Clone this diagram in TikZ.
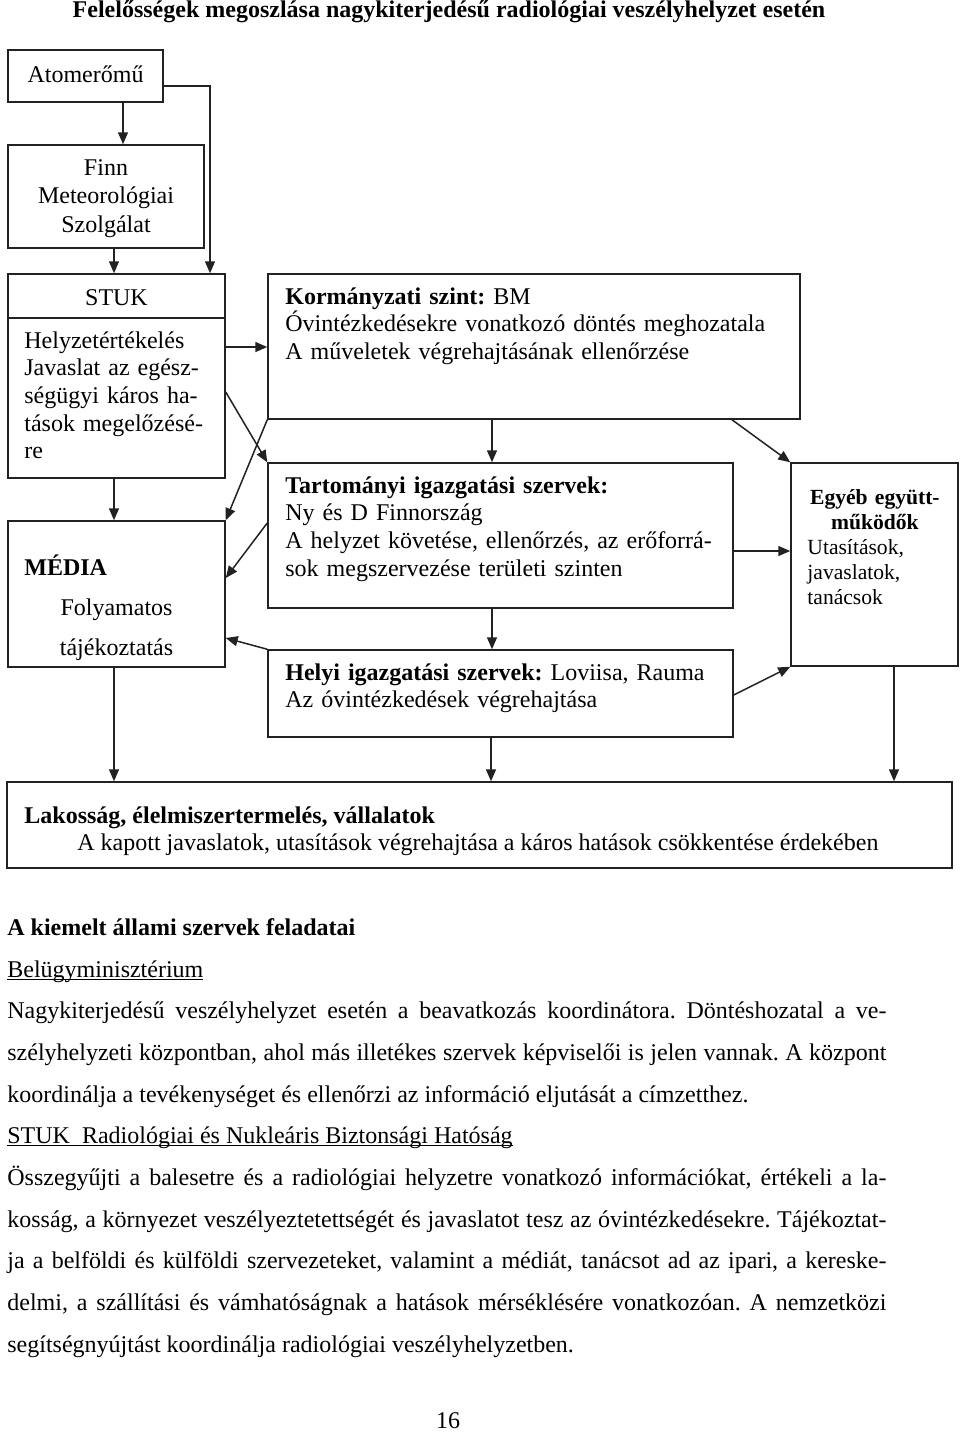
\documentclass[tikz,border=0pt]{standalone}
\usepackage{fontspec}
\setmainfont{Liberation Serif}
\usetikzlibrary{arrows.meta,fit}
\newcommand\myul[1]{\setbox0\hbox{#1}\rlap{\rule[-1.7pt]{\wd0}{0.55pt}}\box0}
\newcommand\jl[1]{\hbox to 439.5pt{#1}}
\definecolor{ln}{HTML}{222222}
\begin{document}
\frenchspacing
\begin{tikzpicture}[x=0.5pt,y=-0.5pt,
  box/.style={draw=ln, line width=0.75pt, inner sep=0pt},
  arr/.style={-{Triangle[length=6pt,width=5pt]}, line width=0.75pt, draw=ln},
  lbl/.style={inner sep=0pt, font=\frenchspacing\fontsize{12}{13.85}\selectfont},
  blk/.style={lbl, align=left, text width=#1},
  body/.style={inner sep=0pt, font=\frenchspacing\fontsize{12}{14}\selectfont, anchor=base west}
]
\fill[white] (0,0) rectangle (960,1432);
\useasboundingbox (0,0) rectangle (960,1432);

% title
\node[lbl, anchor=base] (title) at (449,17) {\textbf{Felelősségek megoszlása nagykiterjedésű radiológiai veszélyhelyzet esetén}};

% boxes
\node[box, fit={(8,50) (163,102)}] (atom) {};
\node[box, fit={(8,145) (204,248)}] (finn) {};
\node[box, fit={(8,274) (225,478)}] (stuk) {};
\node[box, fit={(8,521) (225,667)}] (media) {};
\node[box, fit={(268,274) (800,419)}] (korm) {};
\node[box, fit={(268,463) (733,608)}] (tart) {};
\node[box, fit={(268,650) (733,737)}] (helyi) {};
\node[box, fit={(791,463) (958,666)}] (egyeb) {};
\node[box, fit={(7,782) (952,868)}] (lak) {};
\draw[draw=ln, line width=0.75pt] (stuk.west |- 0,318) -- (stuk.east |- 0,318);

% box texts
\node[lbl, anchor=base] (atomt) at (85.5,82) {Atomerőmű};
\node[lbl, anchor=base] (finn1) at (106,175) {Finn};
\node[lbl, anchor=base] (finn2) at (106,203) {Meteorológiai};
\node[lbl, anchor=base] (finn3) at (106,232) {Szolgálat};
\node[lbl, anchor=base] (stukh) at (116.5,305) {STUK};
\node[blk=110pt, anchor=base west] (stukt) at (24,348) {Helyzetértékelés\\Javaslat az egész-\\ségügyi káros ha-\\tások megelőzésé-\\re};
\node[lbl, anchor=base west] (mediah) at (24,575) {\textbf{MÉDIA}};
\node[lbl, anchor=base] (media1) at (116.5,615) {Folyamatos};
\node[lbl, anchor=base] (media2) at (116.5,655) {tájékoztatás};
\node[blk=255pt, anchor=base west] (kormt) at (285,304) {\textbf{Kormányzati szint:} BM\\Óvintézkedésekre vonatkozó döntés meghozatala\\A műveletek végrehajtásának ellenőrzése};
\node[blk=225pt, anchor=base west] (tartt) at (285,493) {\textbf{Tartományi igazgatási szervek:}\\Ny és D Finnország\\A helyzet követése, ellenőrzés, az erőforrá-\\sok megszervezése területi szinten};
\node[blk=225pt, anchor=base west] (helyit) at (285,680) {\textbf{Helyi igazgatási szervek:} Loviisa, Rauma\\Az óvintézkedések végrehajtása};
\node[inner sep=0pt, align=left, text width=67.5pt, font=\frenchspacing\fontsize{10.8}{12.5}\selectfont, anchor=base west] (egyebt) at (807,504)
  {{\centering\bfseries Egyéb együtt-\\működők\par}Utasítások,\\javaslatok,\\tanácsok};
\node[lbl, anchor=base west] (lak1) at (24,823) {\textbf{Lakosság, élelmiszertermelés, vállalatok}};
\node[lbl, anchor=base west] (lak2) at (77,850) {A kapott javaslatok, utasítások végrehajtása a káros hatások csökkentése érdekében};

% connectors
\draw[arr] (atom.south -| 123,0) -- (finn.north -| 123,0);
\draw[arr] (atom.east |- 0,86) -| (stuk.north -| 210,0);
\draw[arr] (finn.south -| 114,0) -- (stuk.north -| 114,0);
\draw[arr] (stuk.east |- 0,347) -- (korm.west |- 0,347);
\draw[arr] (stuk.east |- 0,392) -- (tart.north west);
\draw[arr] (korm.south west) -- (media.north east);
\draw[arr] (tart.west |- 0,523) -- (media.east |- 0,578);
\draw[arr] (helyi.north west) -- (media.east |- 0,638);
\draw[arr] (stuk.south -| 114,0) -- (media.north -| 114,0);
\draw[arr] (korm.south -| 492,0) -- (tart.north -| 492,0);
\draw[arr] (tart.south -| 492,0) -- (helyi.north -| 492,0);
\draw[arr] (korm.south -| 732,0) -- (egyeb.north west);
\draw[arr] (tart.east |- 0,551) -- (egyeb.west |- 0,551);
\draw[arr] (helyi.east |- 0,695) -- (egyeb.south west);
\draw[arr] (media.south -| 114,0) -- (lak.north -| 114,0);
\draw[arr] (helyi.south -| 491,0) -- (lak.north -| 491,0);
\draw[arr] (egyeb.south -| 894,0) -- (lak.north -| 894,0);

% body text
\node[body] (h1) at (7,935) {\textbf{A kiemelt állami szervek feladatai}};
\node[body] (h2) at (7,977) {\myul{Belügyminisztérium}};
\node[body] (p1) at (7,1018) {\jl{Nagykiterjedésű veszélyhelyzet esetén a beavatkozás koordinátora. Döntéshozatal a ve-}};
\node[body] (p2) at (7,1060) {\jl{szélyhelyzeti központban, ahol más illetékes szervek képviselői is jelen vannak. A központ}};
\node[body] (p3) at (7,1102) {koordinálja a tevékenységet és ellenőrzi az információ eljutását a címzetthez.};
\node[body] (h3) at (7,1143) {\myul{STUK\ \ Radiológiai és Nukleáris Biztonsági Hatóság}};
\node[body] (q1) at (7,1185) {\jl{Összegyűjti a balesetre és a radiológiai helyzetre vonatkozó információkat, értékeli a la-}};
\node[body] (q2) at (7,1227) {\jl{kosság, a környezet veszélyeztetettségét és javaslatot tesz az óvintézkedésekre. Tájékoztat-}};
\node[body] (q3) at (7,1268) {\jl{ja a belföldi és külföldi szervezeteket, valamint a médiát, tanácsot ad az ipari, a kereske-}};
\node[body] (q4) at (7,1310) {\jl{delmi, a szállítási és vámhatóságnak a hatások mérséklésére vonatkozóan. A nemzetközi}};
\node[body] (q5) at (7,1352) {segítségnyújtást koordinálja radiológiai veszélyhelyzetben.};
\node[lbl, anchor=base] (pagenum) at (448,1428) {16};
\end{tikzpicture}
\end{document}
